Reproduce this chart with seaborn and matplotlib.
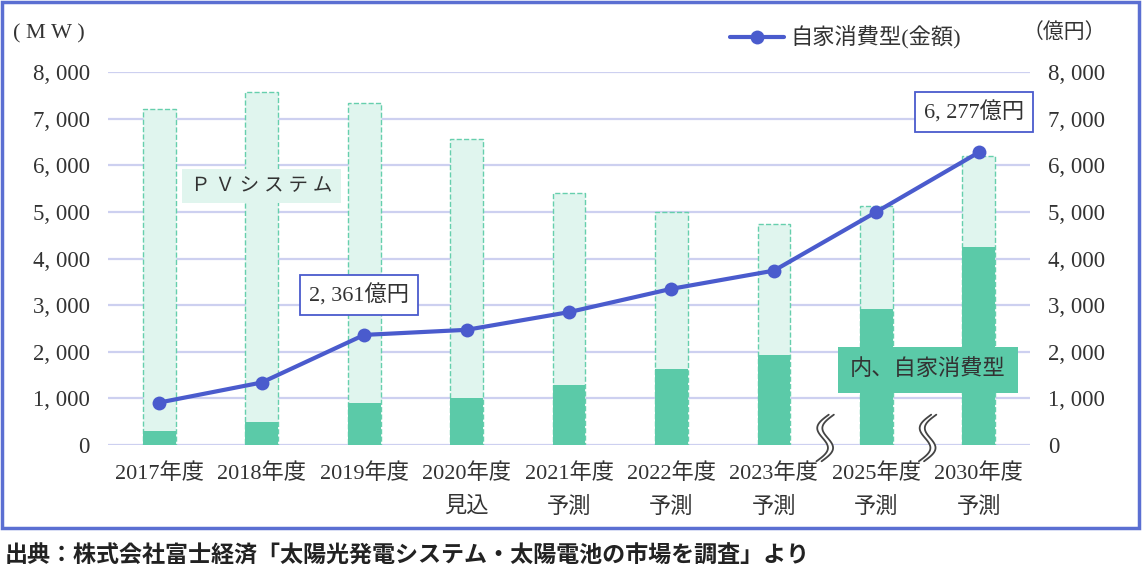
import numpy as np
import pandas as pd
import matplotlib
matplotlib.use("Agg")
import matplotlib.pyplot as plt
from matplotlib.lines import Line2D
from matplotlib.patches import Rectangle
from matplotlib.ticker import FuncFormatter, MultipleLocator
import seaborn as sns

# values
years = ["2017年度", "2018年度", "2019年度", "2020年度\n見込", "2021年度\n予測",
         "2022年度\n予測", "2023年度\n予測", "2025年度\n予測", "2030年度\n予測"]
pv_system = [7200, 7580, 7330, 6560, 5400, 5000, 4740, 5130, 6200]   # MW
self_use = [300, 490, 900, 1010, 1290, 1630, 1920, 2920, 4250]       # MW
amount = [910, 1340, 2361, 2470, 2850, 3350, 3740, 5000, 6277]      # 億円
labelled = [2, 8]  # points with a value box
breaks = [6.5, 7.5]  # axis breaks between 2023/2025 and 2025/2030

df = pd.DataFrame({"pos": np.arange(len(years)), "pv": pv_system,
                   "self": self_use, "amount": amount})

light = "#e0f5ee"
edge = "#66cfad"
dark = "#5bcaa8"
blue = "#4a5bcd"
grid = "#cdd0f0"
border = "#5b6fd2"
txt = "#333333"

sns.set_theme(style="white")
plt.rcParams["font.family"] = ["Liberation Serif", "Noto Sans CJK JP"]

fig = plt.figure(figsize=(11.44, 5.8), dpi=100)
ax = fig.add_axes([0.0944, 0.2328, 0.806, 0.643])

sns.barplot(data=df, x="pos", y="pv", native_scale=True, color=light,
            saturation=1, width=0.32, edgecolor=edge, linestyle="--",
            linewidth=1, ax=ax, zorder=2)
sns.barplot(data=df, x="pos", y="self", native_scale=True, color=dark,
            saturation=1, width=0.32, linewidth=0, ax=ax, zorder=3)

ax.set_xlim(-0.5, len(years) - 0.5)
ax.set_ylim(0, 8000)
ax.yaxis.set_major_locator(MultipleLocator(1000))
fmt = FuncFormatter(lambda v, p: f"{int(v):,}".replace(",", ", "))
ax.yaxis.set_major_formatter(fmt)
ax.yaxis.grid(True, color=grid, lw=1.6)
ax.xaxis.grid(False)
ax.set_axisbelow(True)
for s in ax.spines.values():
    s.set_visible(False)
ax.set_xlabel("")
ax.set_ylabel("")
ax.set_xticks(df["pos"])
ax.set_xticklabels(years)
ax.tick_params(axis="y", length=0, pad=13, labelsize=16.5, labelcolor=txt)
ax.tick_params(axis="x", length=0, pad=13, labelsize=16, labelcolor=txt)
for lab in ax.get_xticklabels():
    lab.set_linespacing(1.8)

ax2 = ax.twinx()
sns.lineplot(data=df, x="pos", y="amount", color=blue, lw=3, marker="o",
             markersize=10, markeredgewidth=0, ax=ax2, zorder=4)
ax2.set_ylim(0, 8000)
ax2.yaxis.set_major_locator(MultipleLocator(1000))
ax2.yaxis.set_major_formatter(fmt)
ax2.set_ylabel("")
ax2.set_xlabel("")
for s in ax2.spines.values():
    s.set_visible(False)
ax2.tick_params(axis="y", length=0, pad=13, labelsize=16.5, labelcolor=txt)

# value boxes
for i in labelled:
    v = amount[i]
    ax2.annotate(f"{v:,}億円".replace(",", ", "), xy=(i, v), xytext=(-5, 40),
                 textcoords="offset pixels", ha="center", va="center",
                 fontsize=16, color=txt, zorder=6,
                 bbox=dict(boxstyle="square,pad=0.4", fc="white", ec=blue, lw=1.3))

ax2.text(1.0, 5550, "Ｐ Ｖ シ ス テ ム", ha="center", va="center", fontsize=14,
         color=txt, zorder=6,
         bbox=dict(boxstyle="square,pad=0.45", fc=light, ec="none"))
ax2.text(7.5, 1610, "内、自家消費型", ha="center", va="center", fontsize=16,
         color=txt, zorder=6,
         bbox=dict(boxstyle="square,pad=0.55", fc=dark, ec="none"))

# axis break marks
t = np.linspace(0, 1, 60)
yb = 650 - t * 1000
for b in breaks:
    xa = b - 0.08 * np.sin(2 * np.pi * t) + 0.12 * (0.5 - t) - 0.025
    xb = xa + 0.05
    ax2.fill_betweenx(yb, xa, xb, color="white", zorder=5, clip_on=False, lw=0)
    ax2.plot(xa, yb, color="#444444", lw=1.3, zorder=5, clip_on=False)
    ax2.plot(xb, yb, color="#444444", lw=1.3, zorder=5, clip_on=False)

# legend
handle = Line2D([], [], color=blue, lw=3, marker="o", markersize=10,
                markeredgewidth=0)
ax2.legend([handle], ["自家消費型(金額)"], loc="center",
           bbox_to_anchor=(0.8, 1.091), frameon=False, fontsize=16,
           handlelength=2.4, handletextpad=0.3, labelcolor=txt)

fig.text(13 / 1144, 1 - 34 / 580, "( M W )", fontsize=16, color=txt,
         ha="left", va="center")
fig.text(1023 / 1144, 1 - 33 / 580, "（億円）", fontsize=15, color=txt,
         ha="left", va="center")

fig.patches.append(Rectangle((0.002, 1 - 528 / 580), 0.9935, 526 / 580,
                             transform=fig.transFigure, fill=False,
                             ec=border, lw=2.5))

fig.text(5 / 1144, 1 - 556 / 580,
         "出典：株式会社富士経済「太陽光発電システム・太陽電池の市場を調査」より",
         fontsize=16.6, fontweight="bold", family=["Noto Sans CJK JP"],
         color="#222222", ha="left", va="center")

fig.savefig("out.png", dpi=100)
